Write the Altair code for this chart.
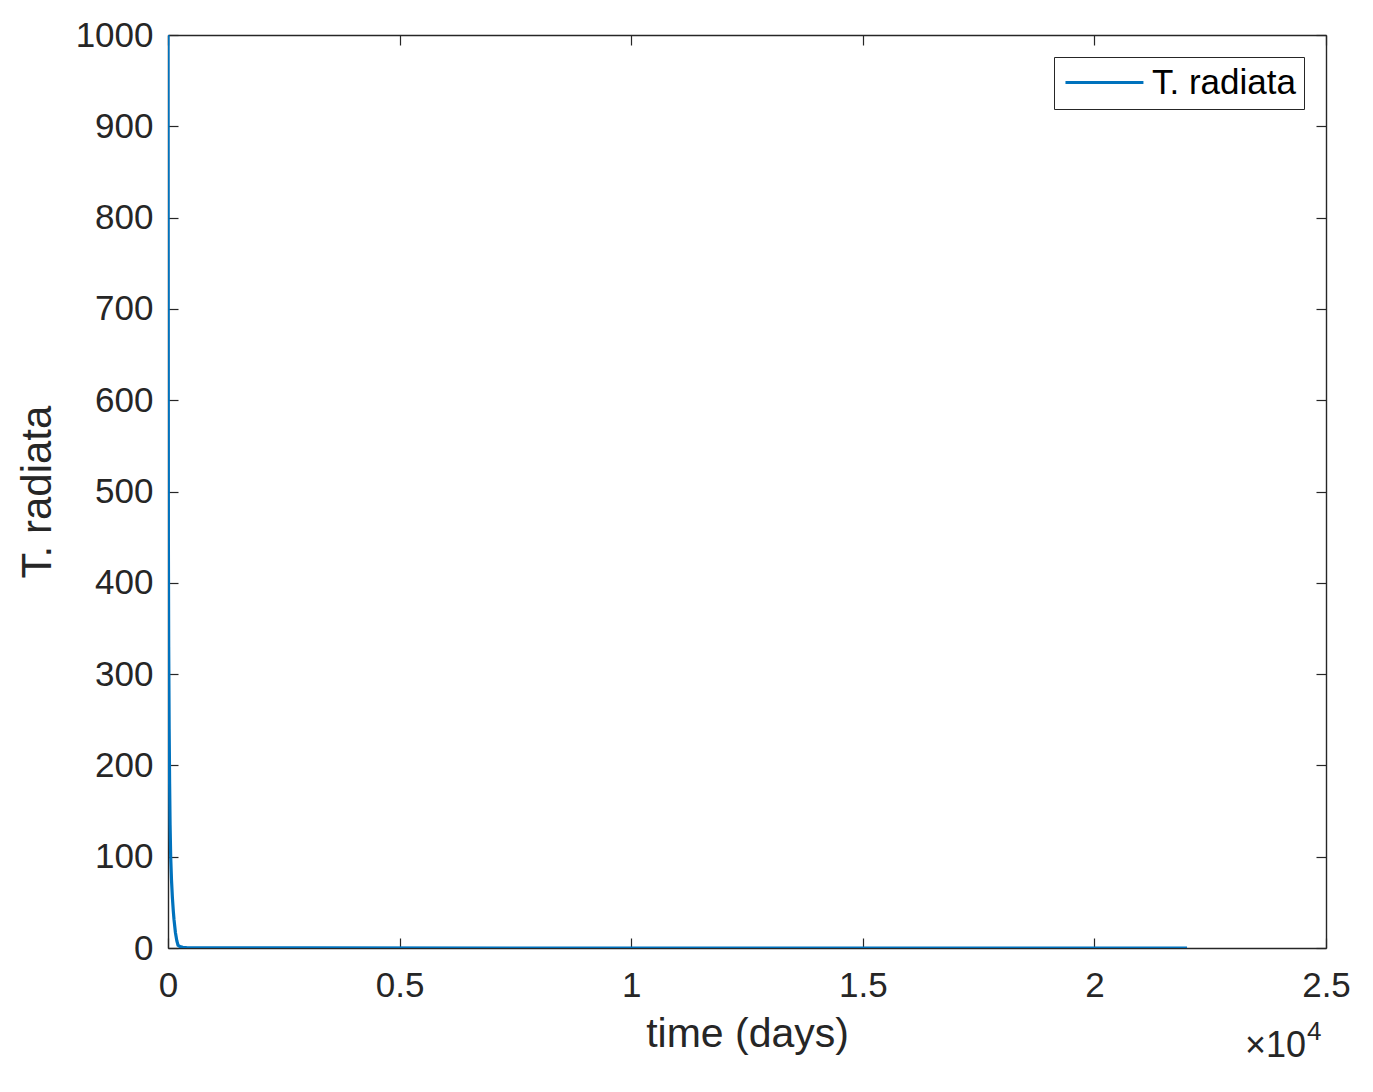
import altair as alt
import pandas as pd

# data
time_days = [0, 8, 15, 25, 35, 45, 58, 75, 95, 115, 130, 160, 190, 216, 260, 320, 400, 600, 1000, 3000, 8000, 15000, 22000]
t_radiata = [1000, 450, 330, 240, 180, 135, 100, 75, 55, 40, 31, 17, 8, 3, 1.5, 0.8, 0.4, 0.2, 0.1, 0.05, 0.02, 0.01, 0.01]
series_name = "T. radiata"
x_ticks = [0, 5000, 10000, 15000, 20000, 25000]
y_ticks = [0, 100, 200, 300, 400, 500, 600, 700, 800, 900, 1000]

W, H = 1158, 913
FONT = "Liberation Sans"
TXT = "#262626"
BLUE = "#0072BD"

df = pd.DataFrame({"t": time_days, "v": t_radiata, "s": [series_name] * len(time_days)})

xs = alt.Scale(domain=[0, 25000], nice=False, zero=False)
ys = alt.Scale(domain=[0, 1000], nice=False, zero=False)

base = alt.Chart(df)

main = base.mark_line(strokeWidth=3.2, clip=True).encode(
    x=alt.X("t:Q", scale=xs, axis=alt.Axis(
        orient="bottom", values=x_ticks, labelExpr="datum.value/10000",
        ticks=False, domain=False, grid=False, title="time (days)",
        labelFontSize=35, labelPadding=20, titleFontSize=41, titlePadding=11,
        labelFont=FONT, titleFont=FONT, labelColor=TXT, titleColor=TXT,
        titleFontWeight="normal", labelFlush=False)),
    y=alt.Y("v:Q", scale=ys, axis=alt.Axis(
        orient="left", values=y_ticks, format="d", ticks=False, domain=False, grid=False,
        title="T. radiata", labelFontSize=35, labelPadding=15, titleFontSize=42,
        titlePadding=16, labelFont=FONT, titleFont=FONT, labelColor=TXT,
        titleColor=TXT, titleFontWeight="normal")),
    color=alt.Color("s:N", scale=alt.Scale(range=[BLUE]), legend=alt.Legend(
        title=None, orient="none", legendX=886, legendY=22,
        symbolType="M-1.44,0H6.56", symbolSize=380, symbolStrokeWidth=3,
        labelFontSize=35, labelFont=FONT, labelColor="#000000",
        labelOffset=55, padding=8, strokeColor=TXT, fillColor="white",
        cornerRadius=0, symbolStrokeColor=BLUE)),
)

tick_ax = dict(labels=False, title=None, domain=True, domainColor=TXT, domainWidth=1.4,
               grid=False, tickSize=10, tickColor=TXT, tickWidth=1.2)

ticks_a = base.mark_line(opacity=0).encode(
    x=alt.X("t:Q", scale=xs, axis=alt.Axis(orient="top", offset=-H, values=x_ticks, **tick_ax)),
    y=alt.Y("v:Q", scale=ys, axis=alt.Axis(orient="right", offset=-W, values=y_ticks, **tick_ax)),
)
ticks_b = base.mark_line(opacity=0).encode(
    x=alt.X("t:Q", scale=xs, axis=alt.Axis(orient="bottom", offset=-H, values=x_ticks, **tick_ax)),
    y=alt.Y("v:Q", scale=ys, axis=alt.Axis(orient="left", offset=-W, values=y_ticks, **tick_ax)),
)

exp_df = pd.DataFrame({"a": ["×10"], "b": ["4"]})
exp_main = alt.Chart(exp_df).mark_text(
    align="right", baseline="alphabetic", font=FONT, fontSize=36, color=TXT
).encode(text="a:N", x=alt.value(1138), y=alt.value(1022))
exp_sup = alt.Chart(exp_df).mark_text(
    align="left", baseline="alphabetic", font=FONT, fontSize=26, color=TXT
).encode(text="b:N", x=alt.value(1139), y=alt.value(1005))

chart = alt.layer(main, ticks_a, ticks_b, exp_main, exp_sup).resolve_axis(
    x="independent", y="independent"
).properties(
    width=W, height=H,
    padding={"left": 160, "top": 27, "right": 39, "bottom": 140},
    autosize=alt.AutoSizeParams(type="none"),
).configure_view(
    stroke=None
).configure(background="white")

chart.save("out.html", embed_options={"renderer": "svg", "actions": False})
